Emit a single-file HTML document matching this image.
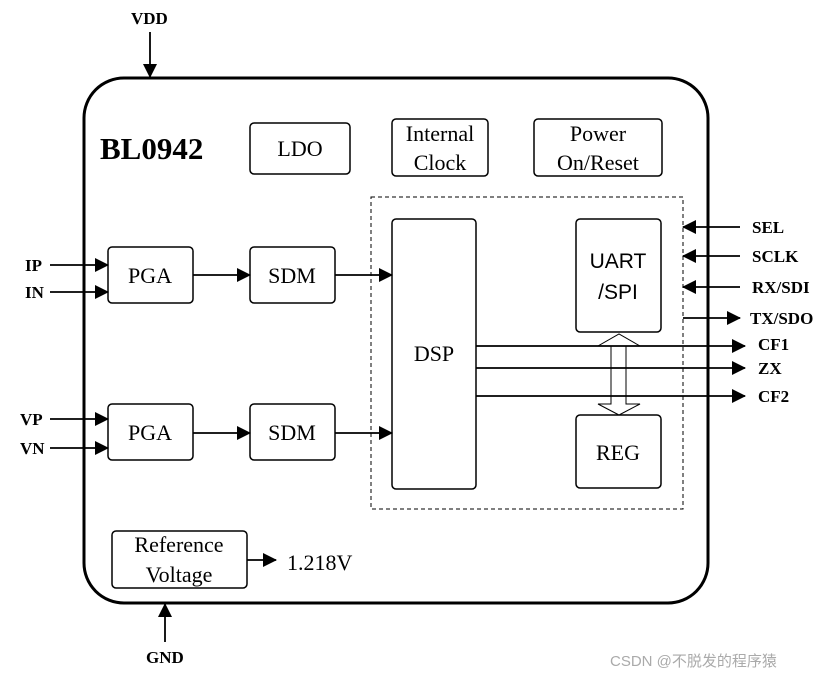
<!DOCTYPE html>
<html><head><meta charset="utf-8"><style>body{margin:0;background:#fff}</style></head><body>
<svg width="836" height="679" viewBox="0 0 836 679" xmlns="http://www.w3.org/2000/svg" font-family="Liberation Serif, serif">
<defs><marker id="b" markerWidth="14" markerHeight="14" refX="13" refY="7" orient="auto" markerUnits="userSpaceOnUse"><path d="M0,0L14,7L0,14z" fill="#000"/></marker></defs>
<rect x="84" y="78" width="624" height="525" rx="40" fill="none" stroke="#000" stroke-width="3"/>
<rect x="371" y="197" width="312" height="312" fill="none" stroke="#000" stroke-dasharray="4,3"/>
<g fill="none" stroke="#000" stroke-width="1.5">
<rect x="250" y="123" width="100" height="51" rx="4"/>
<rect x="392" y="119" width="96" height="57" rx="4"/>
<rect x="534" y="119" width="128" height="57" rx="4"/>
<rect x="392" y="219" width="84" height="270" rx="4"/>
<rect x="576" y="219" width="85" height="113" rx="4"/>
<rect x="576" y="415" width="85" height="73" rx="4"/>
<rect x="108" y="247" width="85" height="56" rx="4"/>
<rect x="250" y="247" width="85" height="56" rx="4"/>
<rect x="108" y="404" width="85" height="56" rx="4"/>
<rect x="250" y="404" width="85" height="56" rx="4"/>
<rect x="112" y="531" width="135" height="57" rx="4"/>
<path d="M611,346V404H598L619,415L640,404H626V346H640L619,334L598,346Z" fill="#fff" stroke-width="1"/>
</g>
<g stroke="#000" stroke-width="1.8">
<line x1="150" y1="32" x2="150" y2="77" marker-end="url(#b)"/>
<line x1="165" y1="642" x2="165" y2="604" marker-end="url(#b)"/>
<line x1="50" y1="265" x2="108" y2="265" marker-end="url(#b)"/>
<line x1="50" y1="292" x2="108" y2="292" marker-end="url(#b)"/>
<line x1="50" y1="419" x2="108" y2="419" marker-end="url(#b)"/>
<line x1="50" y1="448" x2="108" y2="448" marker-end="url(#b)"/>
<line x1="193" y1="275" x2="250" y2="275" marker-end="url(#b)"/>
<line x1="335" y1="275" x2="392" y2="275" marker-end="url(#b)"/>
<line x1="193" y1="433" x2="250" y2="433" marker-end="url(#b)"/>
<line x1="335" y1="433" x2="392" y2="433" marker-end="url(#b)"/>
<line x1="247" y1="560" x2="276" y2="560" marker-end="url(#b)"/>
<line x1="740" y1="227" x2="683" y2="227" marker-end="url(#b)"/>
<line x1="740" y1="256" x2="683" y2="256" marker-end="url(#b)"/>
<line x1="740" y1="287" x2="683" y2="287" marker-end="url(#b)"/>
<line x1="683" y1="318" x2="740" y2="318" marker-end="url(#b)"/>
<line x1="476" y1="346" x2="745" y2="346" marker-end="url(#b)"/>
<line x1="476" y1="368" x2="745" y2="368" marker-end="url(#b)"/>
<line x1="476" y1="396" x2="745" y2="396" marker-end="url(#b)"/>
</g>
<g font-size="22" text-anchor="middle">
<text x="300" y="156">LDO</text>
<text x="440" y="141">Internal</text><text x="440" y="170">Clock</text>
<text x="598" y="141">Power</text><text x="598" y="170">On/Reset</text>
<text x="150" y="283">PGA</text><text x="292" y="283">SDM</text>
<text x="150" y="440">PGA</text><text x="292" y="440">SDM</text>
<text x="434" y="361">DSP</text>
<text x="618" y="460">REG</text>
<text x="179" y="552">Reference</text><text x="179" y="582">Voltage</text>
</g>
<g font-family="Liberation Sans, sans-serif" font-size="21" text-anchor="middle"><text x="618" y="268">UART</text><text x="618" y="299">/SPI</text></g>
<text x="287" y="570" font-size="22">1.218V</text>
<text x="100" y="159" font-size="31" font-weight="bold">BL0942</text>
<g font-size="17" font-weight="bold">
<text x="131" y="24">VDD</text><text x="146" y="663">GND</text>
<text x="25" y="271">IP</text><text x="25" y="298">IN</text>
<text x="20" y="425">VP</text><text x="20" y="454">VN</text>
<text x="752" y="233">SEL</text><text x="752" y="262">SCLK</text>
<text x="752" y="293">RX/SDI</text><text x="750" y="324">TX/SDO</text>
<text x="758" y="350">CF1</text><text x="758" y="374">ZX</text><text x="758" y="402">CF2</text>
</g>
<text x="610" y="666" font-family="Liberation Sans, Noto Sans CJK SC, sans-serif" font-size="15" fill="#aaa">CSDN @不脱发的程序猿</text>
</svg>
</body></html>
